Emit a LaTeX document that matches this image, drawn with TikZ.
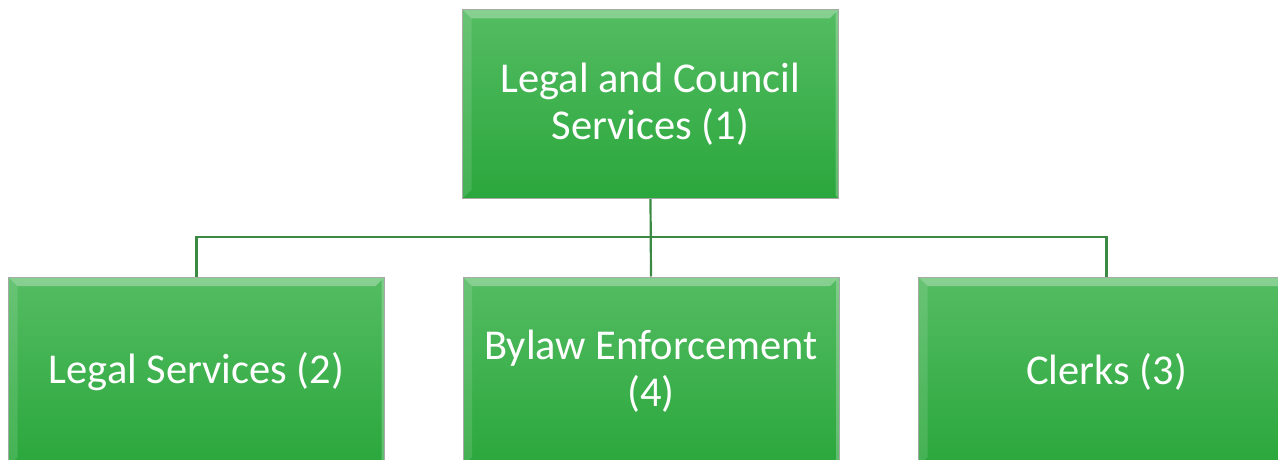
\documentclass[tikz,border=0pt]{standalone}
\usepackage{fontspec}
\setmainfont{Carlito}
\usepackage{tikz}

\definecolor{boxtop}{RGB}{84,188,98}
\definecolor{boxbot}{RGB}{42,167,60}
\definecolor{boxedge}{RGB}{165,170,165}
\definecolor{linkgreen}{RGB}{58,138,68}

\tikzset{
    unitbox/.style={rectangle, draw=boxedge, line width=1pt,
        top color=boxtop, bottom color=boxbot,
        minimum width=376pt, minimum height=189pt, inner sep=0pt,
        text=white, align=center, font=\fontsize{42.5}{47}\selectfont,
        path picture={
            \fill[white, opacity=0.3] (path picture bounding box.north west) -- (path picture bounding box.north east)
                -- ([xshift=-9pt,yshift=-9pt]path picture bounding box.north east)
                -- ([xshift=9pt,yshift=-9pt]path picture bounding box.north west) -- cycle;
            \fill[white, opacity=0.12] (path picture bounding box.north west) -- ([xshift=9pt,yshift=-9pt]path picture bounding box.north west)
                -- ([xshift=9pt,yshift=9pt]path picture bounding box.south west) -- (path picture bounding box.south west) -- cycle;
            \fill[white, opacity=0.25] (path picture bounding box.north east) -- ([xshift=-3pt,yshift=-3pt]path picture bounding box.north east)
                -- ([xshift=-3pt,yshift=3pt]path picture bounding box.south east) -- (path picture bounding box.south east) -- cycle;
        }},
    link/.style={draw=linkgreen, line width=2.2pt}
}

\begin{document}
\begin{tikzpicture}[x=1pt, y=-1pt]
    \useasboundingbox (0,0) rectangle (1278,460);
    \clip (0,0) rectangle (1278,460);

    \node[unitbox] (council) at (650.5,104) {Legal and Council\\Services (1)};
    \node[unitbox] (legal)   at (196.5,371.5) {Legal Services (2)};
    \node[unitbox] (bylaw)   at (651,371.5) {Bylaw Enforcement\\(4)};
    \node[unitbox] (clerks)  at (1106.5,371.5) {Clerks (3)};

    \coordinate (bus) at (650,237);
    \draw[link] (council.south) -- (bylaw.north);
    \draw[link] (legal.north) -- (legal.north |- bus) -- (clerks.north |- bus) -- (clerks.north);
\end{tikzpicture}
\end{document}
